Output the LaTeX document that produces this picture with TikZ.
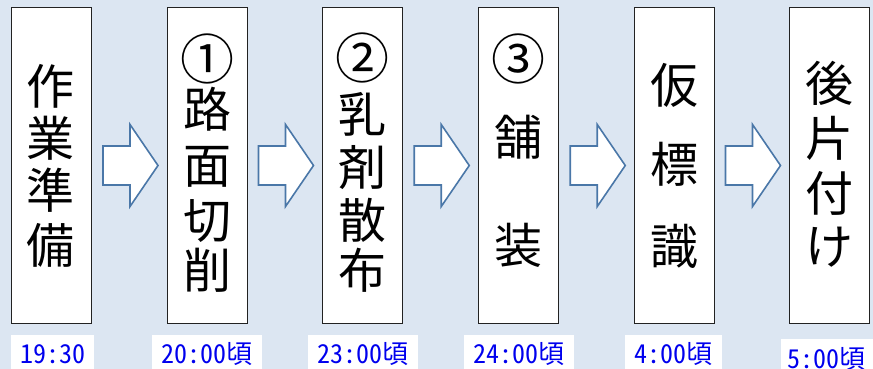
\documentclass[tikz,border=0pt]{standalone}
\usepackage{fontspec}
\newfontfamily\jp{Noto Sans CJK JP}
\newfontfamily\jphw[RawFeature=+hwid]{Noto Sans CJK JP}
\usetikzlibrary{calc}
\definecolor{bgc}{HTML}{DCE6F2}
\definecolor{arrc}{HTML}{4A77A8}
\definecolor{lblc}{HTML}{0000EE}
\definecolor{boxc}{HTML}{222222}
\begin{document}
\begin{tikzpicture}[x=1pt,y=-1pt,
  stepbox/.style={draw=boxc,line width=1pt,fill=white,minimum width=80pt,minimum height=315pt,inner sep=0pt},
  chr/.style={font=\jp\fontsize{48}{48}\selectfont,anchor=base,inner sep=0pt},
  circ/.style={font=\jp\fontsize{54}{54}\selectfont,anchor=base,inner sep=0pt},
  lblbox/.style={fill=white,inner sep=0pt,anchor=north west},
  lbltext/.style={font=\jphw\fontsize{26}{26}\selectfont,text=lblc,anchor=base,inner sep=0pt},
  blockarrow/.style={draw=arrc,line width=1.6pt,fill=white,line join=miter}]
\useasboundingbox (0,0) rectangle (873,369);
\fill[bgc] (0,0) rectangle (873,369);
% boxes
\node[stepbox] (b1) at (51,165.5) {};
\node[stepbox] (b2) at (207,165.5) {};
\node[stepbox] (b3) at (362,165.5) {};
\node[stepbox] (b4) at (518.5,165.5) {};
\node[stepbox] (b5) at (674,165.5) {};
\node[stepbox] (b6) at (829,165.5) {};
% circled numbers
\node[circ] (n1) at (207,59.5+20) {①};
\node[circ] (n2) at (362,58+20) {②};
\node[circ] (n3) at (518.5,60+20) {③};
% texts
\foreach \ch/\yy [count=\k] in {作/86,業/138,準/190,備/245}
  \node[chr] (c1-\k) at (51,\yy+18) {\ch};
\foreach \ch/\yy [count=\k] in {路/110,面/165,切/220,削/270}
  \node[chr] (c2-\k) at (207,\yy+18) {\ch};
\foreach \ch/\yy [count=\k] in {乳/114,剤/167,散/220,布/270}
  \node[chr] (c3-\k) at (362,\yy+18) {\ch};
\foreach \ch/\yy [count=\k] in {舗/137,装/245}
  \node[chr] (c4-\k) at (518.5,\yy+18) {\ch};
\foreach \ch/\yy [count=\k] in {仮/85,標/164,識/246}
  \node[chr] (c5-\k) at (674,\yy+18) {\ch};
\foreach \ch/\yy [count=\k] in {後/84,片/138,付/193,け/246}
  \node[chr] (c6-\k) at (829,\yy+18) {\ch};
% block arrows
\foreach \a/\b in {1/2,2/3,3/4,4/5,5/6}{
  \coordinate (m\a) at ($(b\a.east)!0.5!(b\b.west)$);
  \draw[blockarrow] ($(m\a)+(-26,-19.5)$) -- ++(27,0) -- ++(0,-21.5) -- ++(28,41)
     -- ++(-28,41) -- ++(0,-21.5) -- ++(-27,0) -- cycle;
}
% time labels
\node[lblbox,minimum width=83pt,minimum height=40pt] (l1) at (11,335) {};
\node[lblbox,minimum width=110pt,minimum height=40pt] (l2) at (152,335) {};
\node[lblbox,minimum width=110pt,minimum height=40pt] (l3) at (308,335) {};
\node[lblbox,minimum width=110pt,minimum height=40pt] (l4) at (464,335) {};
\node[lblbox,minimum width=97pt,minimum height=40pt] (l5) at (625,335) {};
\node[lblbox,minimum width=95pt,minimum height=40pt] (l6) at (781,339) {};
\node[lbltext] (t1) at ($(l1.north)+(0,28)$) {19:30};
\node[lbltext] (t2) at ($(l2.north)+(0,28)$) {20:00頃};
\node[lbltext] (t3) at ($(l3.north)+(0,28)$) {23:00頃};
\node[lbltext] (t4) at ($(l4.north)+(0,28)$) {24:00頃};
\node[lbltext] (t5) at ($(l5.north)+(0,28)$) {4:00頃};
\node[lbltext] (t6) at ($(l6.north)+(-2,29)$) {5:00頃};
\end{tikzpicture}
\end{document}
